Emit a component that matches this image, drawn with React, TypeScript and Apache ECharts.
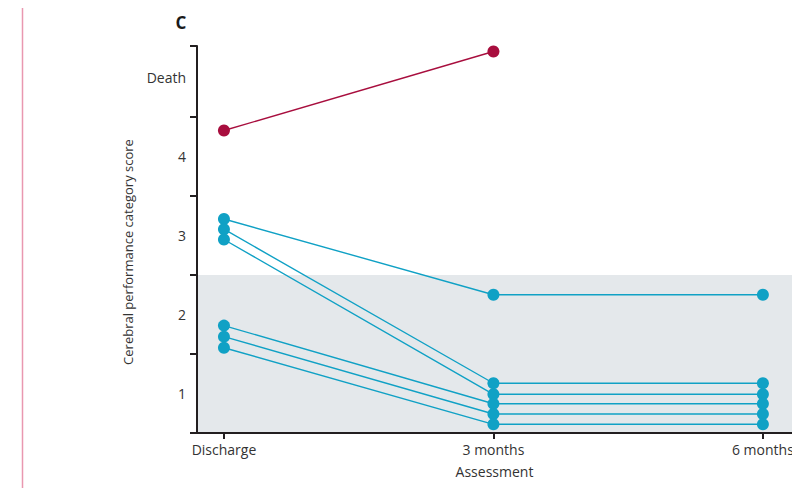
import React, { useEffect, useRef } from "react";
import * as echarts from "echarts";

const timepoints = ["Discharge", "3 months", "6 months"];
const yLabelValues = [1, 2, 3, 4, 5];
const yLabelNames: Record<number, string> = { 1: "1", 2: "2", 3: "3", 4: "4", 5: "Death" };
const yTickValues = [0.5, 1.5, 2.5, 3.5, 4.5, 5.4];

const deathPatient: (number | null)[] = [4.33, 5.33, null];
const patient1 = [3.21, 2.25, 2.25];
const patient2 = [3.08, 1.13, 1.13];
const patient3 = [2.95, 0.99, 0.99];
const patient4 = [1.86, 0.87, 0.87];
const patient5 = [1.72, 0.74, 0.74];
const patient6 = [1.58, 0.61, 0.61];
const survivors = [patient1, patient2, patient3, patient4, patient5, patient6];

const BLUE = "#10a1c5";
const RED = "#a80e3e";
const TEXT = "#333333";
const AXIS = "#231f20";
const FONT = "'Open Sans', 'Noto Sans', sans-serif";

export default function App() {
  const ref = useRef<HTMLDivElement>(null);
  useEffect(() => {
    document.body.style.margin = "0";
    if (!ref.current) return;
    const chart = echarts.init(ref.current, null, { renderer: "svg" });
    const toPairs = (arr: (number | null)[]) =>
      arr.map((v, i) => [i, v]).filter((p) => p[1] !== null);

    const series: any[] = survivors.map((s, idx) => ({
      type: "line",
      data: toPairs(s),
      symbol: "circle",
      symbolSize: 12,
      lineStyle: { color: BLUE, width: 1.4 },
      itemStyle: { color: BLUE },
      z: 3,
      markArea:
        idx === 0
          ? {
              silent: true,
              itemStyle: { color: "#e4e8eb" },
              data: [[{ yAxis: 0.5 }, { yAxis: 2.5 }]],
              z: 1,
            }
          : undefined,
    }));
    series.push({
      type: "line",
      data: toPairs(deathPatient),
      symbol: "circle",
      symbolSize: 12,
      lineStyle: { color: RED, width: 1.4 },
      itemStyle: { color: RED },
      z: 4,
    });

    chart.setOption({
      animation: false,
      textStyle: { fontFamily: FONT },
      grid: {
        left: 197,
        right: 0,
        top: 46,
        bottom: 55,
        containLabel: false,
        outerBoundsMode: "none",
      },
      xAxis: {
        type: "value",
        min: -0.1,
        max: 2.108,
        z: 10,
        name: "Assessment",
        nameLocation: "middle",
        nameGap: 31,
        nameTextStyle: { color: TEXT, fontSize: 14, fontFamily: FONT },
        axisLine: { show: true, onZero: false, lineStyle: { color: AXIS, width: 2 } },
        axisTick: {
          show: true,
          customValues: [0, 1, 2],
          length: 6,
          lineStyle: { color: AXIS, width: 2 },
        },
        axisLabel: {
          customValues: [0, 1, 2],
          formatter: (v: number) => timepoints[Math.round(v)],
          color: TEXT,
          fontSize: 14,
          margin: 9,
          fontFamily: FONT,
        },
        splitLine: { show: false },
      },
      yAxis: {
        type: "value",
        min: 0.5,
        max: 5.4,
        z: 10,
        axisLine: { show: true, onZero: false, lineStyle: { color: AXIS, width: 2 } },
        axisTick: {
          show: true,
          customValues: yTickValues,
          length: 7,
          lineStyle: { color: AXIS, width: 2 },
        },
        axisLabel: {
          customValues: yLabelValues,
          formatter: (v: number) => yLabelNames[Math.round(v)] ?? "",
          color: TEXT,
          fontSize: 14,
          margin: 11,
          fontFamily: FONT,
        },
        splitLine: { show: false },
      },
      graphic: [
        {
          type: "line",
          shape: { x1: 22.5, y1: 8, x2: 22.5, y2: 488 },
          style: { stroke: "#e998b0", lineWidth: 1.5 },
        },
        {
          type: "text",
          x: 181,
          y: 22,
          style: {
            text: "C",
            font: `bold 17px ${FONT}`,
            fill: "#1a1a1a",
            align: "center",
            verticalAlign: "middle",
          },
        },
        {
          type: "text",
          x: 128,
          y: 252,
          rotation: Math.PI / 2,
          style: {
            text: "Cerebral performance category score",
            font: `13px ${FONT}`,
            fill: TEXT,
            align: "center",
            verticalAlign: "middle",
          },
        },
      ],
      series,
    });
    return () => chart.dispose();
  }, []);
  return <div ref={ref} style={{ width: 792, height: 488 }} />;
}
